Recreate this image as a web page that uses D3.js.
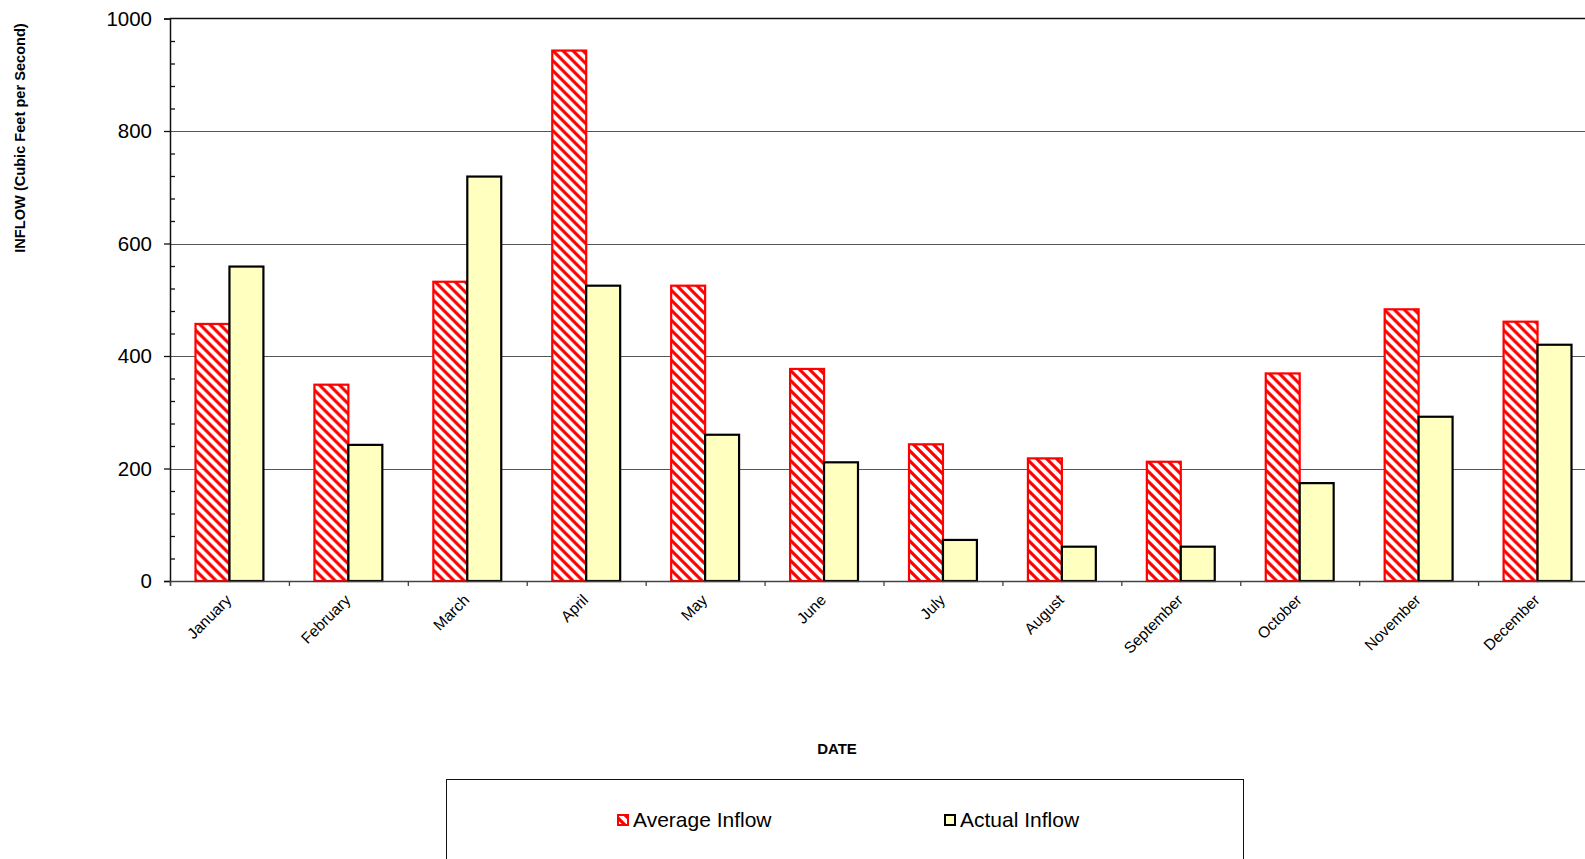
<!DOCTYPE html>
<html>
<head>
<meta charset="utf-8">
<script src="https://cdn.jsdelivr.net/npm/d3@7/dist/d3.min.js"></script>
<style>
  html, body { margin: 0; padding: 0; background: #fff; overflow: hidden; }
  svg { display: block; font-family: "Liberation Sans", Arial, sans-serif; }
</style>
</head>
<body>
<script>
const months = ["January","February","March","April","May","June","July","August","September","October","November","December"];
const averageInflow = [457, 349, 532, 943, 525, 377, 243, 218, 212, 369, 483, 461];
const actualInflow  = [559, 242, 719, 525, 260, 211, 73, 61, 61, 174, 292, 420];
const seriesNames = ["Average Inflow", "Actual Inflow"];
const yMajorTicks = [0, 200, 400, 600, 800, 1000];

const W = 1585, H = 859;
const plotLeft = 170, plotRight = 1597, plotTop = 18.5, plotBottom = 581;

const svg = d3.select("body").append("svg").attr("width", W).attr("height", H);

const defs = svg.append("defs");
const P = 10;
const pat = defs.append("pattern").attr("id", "hatch").attr("patternUnits", "userSpaceOnUse")
  .attr("width", P).attr("height", P);
pat.append("rect").attr("width", P).attr("height", P).attr("fill", "#fff");
pat.append("path").attr("d", `M-3,-3 L${P+3},${P+3} M-3,${P-3} L3,${P+3} M${P-3},-3 L${P+3},3`)
  .attr("stroke", "#ff0000").attr("stroke-width", 3.1);

const x = d3.scaleBand().domain(months).range([plotLeft, plotRight]).paddingInner(51/118.9).paddingOuter(25.5/118.9);
const xs = d3.scaleBand().domain(seriesNames).range([0, x.bandwidth()]);
const xb = d3.scaleLinear().domain([0, 12]).range([plotLeft, plotRight]);
const y = d3.scaleLinear().domain([0, 1000]).range([plotBottom, plotTop]);

// gridlines
svg.append("g").selectAll("line").data(yMajorTicks.filter(v => v > 0 && v < 1000)).join("line")
  .attr("x1", plotLeft).attr("x2", W).attr("y1", d => Math.round(y(d)) + 0.5).attr("y2", d => Math.round(y(d)) + 0.5)
  .attr("stroke", "#555").attr("stroke-width", 1.2);
// top border
svg.append("line").attr("x1", plotLeft).attr("x2", W).attr("y1", y(1000)).attr("y2", y(1000))
  .attr("stroke", "#111").attr("stroke-width", 1.5);

// bars
const rows = months.map((m, i) => ({ m, vals: [averageInflow[i], actualInflow[i]] }));
const grp = svg.append("g").selectAll("g").data(rows).join("g")
  .attr("transform", d => `translate(${x(d.m)},0)`);
grp.selectAll("rect").data(d => d.vals.map((v, k) => ({ v, k }))).join("rect")
  .attr("x", d => xs(seriesNames[d.k]))
  .attr("width", xs.bandwidth())
  .attr("y", d => y(d.v))
  .attr("height", d => y(0) - y(d.v))
  .attr("fill", d => d.k === 0 ? "url(#hatch)" : "#ffffc0")
  .attr("stroke", d => d.k === 0 ? "#ff0000" : "#000")
  .attr("stroke-width", 2.2);

// y axis major
const yAxis = svg.append("g").attr("transform", `translate(${plotLeft},0)`)
  .call(d3.axisLeft(y).tickValues(yMajorTicks).tickSize(6).tickPadding(12).tickFormat(d3.format("d")));
yAxis.select(".domain").attr("stroke", "#111").attr("stroke-width", 1.5);
yAxis.selectAll(".tick line").attr("stroke", "#111").attr("stroke-width", 1.3);
yAxis.selectAll(".tick text").attr("font-size", 20.5).attr("fill", "#000")
  .attr("font-family", "'Liberation Sans', Arial, sans-serif");
// y axis minor (inside)
const yMinor = svg.append("g").attr("transform", `translate(${plotLeft},0)`)
  .call(d3.axisRight(y).tickValues(d3.range(40, 1000, 40).filter(v => v % 200 !== 0)).tickSize(5).tickFormat(""));
yMinor.select(".domain").remove();
yMinor.selectAll(".tick line").attr("stroke", "#111").attr("stroke-width", 1.3);

// x axis
const xAxis = svg.append("g").attr("transform", `translate(0,${plotBottom})`)
  .call(d3.axisBottom(xb).tickValues(d3.range(13)).tickSize(5).tickFormat(""));
xAxis.select(".domain").attr("stroke", "#444").attr("stroke-width", 1.5);
xAxis.selectAll(".tick line").attr("stroke", "#444").attr("stroke-width", 1.3);

// x labels
svg.append("g").selectAll("text").data(months).join("text")
  .attr("transform", d => `translate(${x(d) + x.bandwidth()/2 + 3},${plotBottom + 20}) rotate(-45)`)
  .attr("text-anchor", "end")
  .attr("font-size", 15.5)
  .attr("fill", "#000")
  .text(d => d);

// axis titles
svg.append("text").attr("x", 837).attr("y", 754).attr("text-anchor", "middle")
  .attr("font-size", 15).attr("font-weight", "bold").text("DATE");
svg.append("text").attr("transform", "translate(25,138) rotate(-90)").attr("text-anchor", "middle")
  .attr("font-size", 14.6).attr("font-weight", "bold").text("INFLOW (Cubic Feet per Second)");

// legend
svg.append("rect").attr("x", 446.5).attr("y", 779.5).attr("width", 797).attr("height", 120)
  .attr("fill", "#fff").attr("stroke", "#111").attr("stroke-width", 1);
const legendItems = [
  { name: seriesNames[0], mx: 617, fill: "url(#hatch)", stroke: "#ff0000" },
  { name: seriesNames[1], mx: 944, fill: "#ffffc0", stroke: "#000" }
];
const lg = svg.append("g").selectAll("g").data(legendItems).join("g");
lg.append("rect").attr("x", d => d.mx + 1).attr("y", 815).attr("width", 10).attr("height", 10)
  .attr("fill", d => d.fill).attr("stroke", d => d.stroke).attr("stroke-width", 2);
lg.append("text").attr("x", d => d.mx + 16).attr("y", 827).attr("font-size", 21).attr("fill", "#000")
  .text(d => d.name);
</script>
</body>
</html>
